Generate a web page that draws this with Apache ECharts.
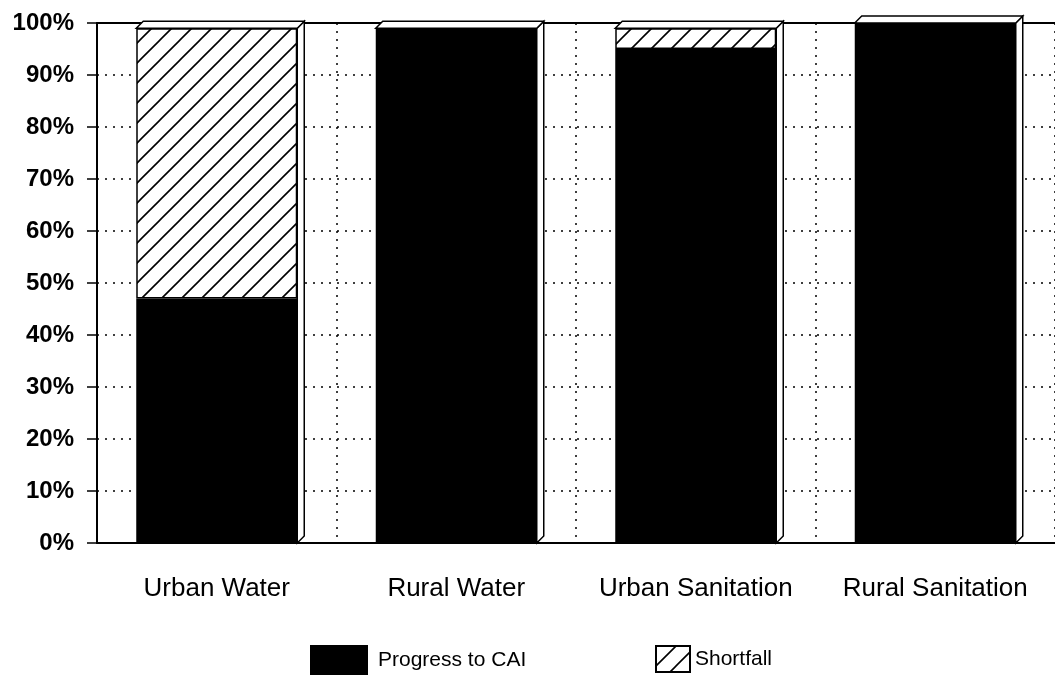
<!DOCTYPE html>
<html>
<head>
<meta charset="utf-8">
<script src="https://cdn.jsdelivr.net/npm/echarts@6/dist/echarts.min.js"></script>
<style>
html,body{margin:0;padding:0;background:#fff;}
#c{width:1055px;height:676px;}
</style>
</head>
<body>
<div id="c"></div>
<script>
var categories = ['Urban Water', 'Rural Water', 'Urban Sanitation', 'Rural Sanitation'];
var progressValues = [47, 99, 95, 100];
var shortfallValues = [52, 0, 4, 0];
var yTicks = [0, 10, 20, 30, 40, 50, 60, 70, 80, 90, 100];

function hatch() {
  var s = 20;
  var cv = document.createElement('canvas');
  cv.width = s; cv.height = s;
  var ctx = cv.getContext('2d');
  ctx.fillStyle = '#fff';
  ctx.fillRect(0, 0, s, s);
  ctx.strokeStyle = '#000';
  ctx.lineWidth = 1.6;
  ctx.beginPath();
  ctx.moveTo(-2, s + 2); ctx.lineTo(s + 2, -2);
  ctx.moveTo(-2, 2); ctx.lineTo(2, -2);
  ctx.moveTo(s - 2, s + 2); ctx.lineTo(s + 2, s - 2);
  ctx.stroke();
  return cv;
}
var hatchFill = { image: hatch(), repeat: 'repeat' };

var BAR_W = 161, DEPTH = 7;
var totals = categories.map(function (c, i) { return [i, progressValues[i] + shortfallValues[i]]; });

function render3D(params, api) {
  var idx = api.value(0);
  var top = api.coord([idx, api.value(1)]);
  var base = api.coord([idx, 0]);
  var xl = top[0] - BAR_W / 2, xr = top[0] + BAR_W / 2;
  var yt = top[1], yb = base[1];
  var st = { fill: '#fff', stroke: '#000', lineWidth: 1.5 };
  return {
    type: 'group',
    children: [
      { type: 'polygon', shape: { points: [[xr, yb], [xr + DEPTH, yb - DEPTH], [xr + DEPTH, yt - DEPTH], [xr, yt]] }, style: st },
      { type: 'polygon', shape: { points: [[xl, yt], [xl + DEPTH, yt - DEPTH], [xr + DEPTH, yt - DEPTH], [xr, yt]] }, style: st }
    ]
  };
}

var font = '"Liberation Sans", Arial, sans-serif';
var chart = echarts.init(document.getElementById('c'), null, { renderer: 'canvas' });
chart.setOption({
  animation: false,
  backgroundColor: '#fff',
  grid: { left: 97, right: -2, top: 23, bottom: 133, containLabel: false },
  legend: [
    {
      data: ['Progress to CAI'], left: 305, top: 640,
      itemWidth: 56, itemHeight: 28, itemGap: 10, icon: 'rect',
      textStyle: { fontFamily: font, fontSize: 21, color: '#000', padding: [0, 0, 0, 6] }
    },
    {
      data: ['Shortfall'], left: 650, top: 640,
      itemWidth: 34, itemHeight: 26, icon: 'rect',
      textStyle: { fontFamily: font, fontSize: 21, color: '#000' }
    }
  ],
  xAxis: [
    {
      type: 'category', data: categories, position: 'bottom',
      axisLine: { lineStyle: { color: '#000', width: 2 } },
      axisTick: { alignWithLabel: true, interval: 0, length: 18, lineStyle: { color: '#000', width: 1.5 } },
      axisLabel: { interval: 0, hideOverlap: false, margin: 33, fontFamily: font, fontSize: 26, color: '#000' },
      splitLine: { show: true, interval: 0, lineStyle: { color: '#000', type: [2, 6], width: 1.5 } }
    },
    {
      type: 'category', data: categories, position: 'top',
      axisLine: { lineStyle: { color: '#000', width: 2 } },
      axisTick: { show: false }, axisLabel: { show: false }, splitLine: { show: false }
    }
  ],
  yAxis: {
    type: 'value', min: yTicks[0], max: yTicks[yTicks.length - 1], interval: 10,
    axisLine: { show: true, lineStyle: { color: '#000', width: 2 } },
    axisTick: { show: true, length: 10, lineStyle: { color: '#000', width: 1.5 } },
    axisLabel: {
      margin: 23, fontFamily: font, fontSize: 24, fontWeight: 'bold', color: '#000',
      formatter: function (v) { return v + '%'; }
    },
    splitLine: { show: true, lineStyle: { color: '#000', type: [2, 6], width: 1.5 } }
  },
  series: [
    {
      name: 'Progress to CAI', type: 'bar', stack: 'a', barWidth: BAR_W,
      data: progressValues,
      itemStyle: { color: '#000', borderColor: '#000', borderWidth: 1.5 }
    },
    {
      name: 'Shortfall', type: 'bar', stack: 'a', barWidth: BAR_W,
      data: shortfallValues,
      itemStyle: { color: hatchFill, borderColor: '#000', borderWidth: 1.5 }
    },
    {
      name: 'depth', type: 'custom', data: totals, renderItem: render3D,
      encode: { x: 0, y: 1 }, silent: true, z: 3
    }
  ]
});
</script>
</body>
</html>
